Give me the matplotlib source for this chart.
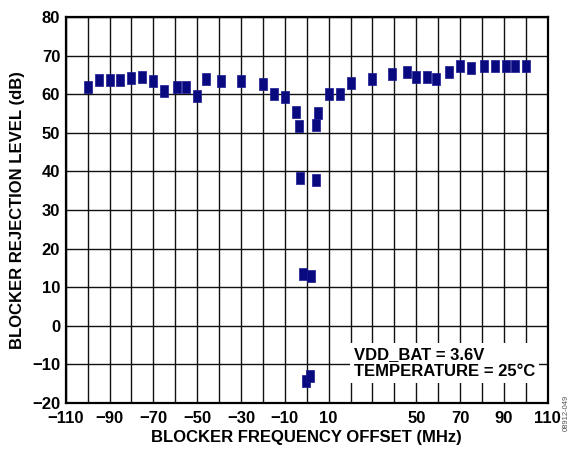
import matplotlib
matplotlib.use("Agg")
import matplotlib.pyplot as plt
from matplotlib.ticker import MultipleLocator

plt.rcParams['font.family'] = ['Liberation Sans', 'DejaVu Sans']
plt.rcParams['font.weight'] = 'bold'

# blocker offset (MHz) and rejection level (dB)
offset_mhz = [-100, -95, -90, -85, -80, -75, -70, -65, -59, -55, -50, -46, -39,
              -30, -20, -15, -10, -5, -3.6, -2.9, -1.8, -0.5, 1.5, 2.0, 4.1,
              4.1, 5.2, 10, 15, 20, 30, 39, 46, 50, 55, 59, 65, 70, 75, 81,
              86, 91, 95, 100]
rejection_db = [61.8, 63.7, 63.7, 63.7, 64.2, 64.4, 63.5, 61.0, 62.0, 62.0, 59.7,
                64.0, 63.5, 63.5, 62.6, 60.1, 59.2, 55.5, 51.7, 38.4, 13.5,
                -14.3, -13.2, 12.8, 37.8, 52.0, 55.1, 60.1, 60.1, 63.0, 64.0,
                65.3, 65.9, 64.4, 64.4, 64.0, 65.9, 67.4, 66.8, 67.4, 67.4,
                67.4, 67.4, 67.4]

xticks = list(range(-110, 111, 10))
xlabels_shown = [-110, -90, -70, -50, -30, -10, 10, 50, 70, 90, 110]
xticklabels = [str(t).replace('-', '\u2212') if t in xlabels_shown else '' for t in xticks]

fig = plt.figure(figsize=(5.74, 4.54), dpi=100)
ax = fig.add_axes([0.1145, 0.113, 0.8397, 0.8489])

# tall rectangle marker like the datasheet plot
rect = [(-0.36, -0.5), (0.36, -0.5), (0.36, 0.5), (-0.36, 0.5), (-0.36, -0.5)]
ax.plot(offset_mhz, rejection_db, linestyle='none', marker=rect, markersize=8,
        color='#0a0a80', markeredgecolor='#1a1a90', markeredgewidth=0.5, zorder=3)

ax.set_xlim(-110, 110)
ax.set_ylim(-20, 80)
ax.set_xticks(xticks)
ax.set_xticklabels(xticklabels)
ax.yaxis.set_major_locator(MultipleLocator(10))
ax.tick_params(length=0, labelsize=12, pad=4)
ax.tick_params(axis='x', pad=6)
for lbl in ax.get_xticklabels() + ax.get_yticklabels():
    lbl.set_fontweight('bold')

ax.grid(True, color='#111111', linewidth=1.0, zorder=1)
ax.set_axisbelow(True)
for sp in ax.spines.values():
    sp.set_linewidth(1.6)

ax.set_xlabel("BLOCKER FREQUENCY OFFSET (MHz)", fontsize=12, fontweight='bold', labelpad=3)
ax.set_ylabel("BLOCKER REJECTION LEVEL (dB)", fontsize=12, fontweight='bold', labelpad=5)

ax.text(21.5, -9.6, "VDD_BAT = 3.6V\nTEMPERATURE = 25\u00b0C", fontsize=12,
        fontweight='bold', ha='left', va='center', linespacing=1.15, zorder=4,
        bbox=dict(facecolor='white', edgecolor='none', pad=3))

fig.text(0.987, 0.09, "08912-049", rotation=90, fontsize=5.5, color='#555555',
         fontweight='normal', ha='center', va='center')

fig.savefig("out.png", dpi=100)
